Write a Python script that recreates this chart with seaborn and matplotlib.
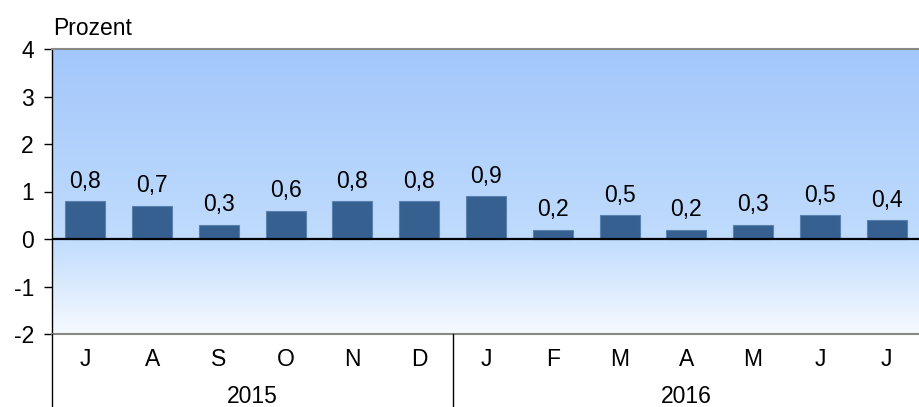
import numpy as np
import pandas as pd

import matplotlib
matplotlib.use("Agg")
import matplotlib.pyplot as plt
from matplotlib.colors import LinearSegmentedColormap
import seaborn as sns

# data
months = ["J", "A", "S", "O", "N", "D", "J", "F", "M", "A", "M", "J", "J"]
years = ["2015"] * 6 + ["2016"] * 7
values = [0.8, 0.7, 0.3, 0.6, 0.8, 0.8, 0.9, 0.2, 0.5, 0.2, 0.3, 0.5, 0.4]

df = pd.DataFrame({
    "periode": [f"{m}-{y}-{i}" for i, (m, y) in enumerate(zip(months, years))],
    "wert": values,
})

sns.set_theme(style="white")
plt.rcParams["font.family"] = ["Liberation Sans", "DejaVu Sans"]
FS = 16.5

fig = plt.figure(figsize=(9.2, 4.07), dpi=100)
ax = fig.add_axes([52 / 920, 73 / 407, 868 / 920, 285 / 407])

n = len(values)
ymin, ymax = -2, 4

# gradient background (light at bottom, blue at top)
cmap = LinearSegmentedColormap.from_list(
    "bg", [(0.0, "#f6faff"), (1 / 3, "#c0dcfd"), (1.0, "#a3c7fb")])
grad = np.linspace(0, 1, 256).reshape(-1, 1)
ax.imshow(grad, cmap=cmap, origin="lower", aspect="auto",
          extent=(-0.5, n - 0.5, ymin, ymax), zorder=0)

sns.barplot(data=df, x="periode", y="wert", color="#36608f", saturation=1,
            width=0.6, edgecolor="#5a80ad", linewidth=0.8, ax=ax, zorder=2)

ax.bar_label(ax.containers[0],
             labels=[f"{v:.1f}".replace(".", ",") for v in values],
             padding=6, fontsize=FS, color="black")

ax.axhline(0, color="black", lw=1.6, zorder=3)

ax.set_xlim(-0.5, n - 0.5)
ax.set_ylim(ymin, ymax)
ax.set_yticks(range(ymin, ymax + 1))
ax.set_yticklabels([str(v) for v in range(ymin, ymax + 1)])
ax.tick_params(axis="y", left=True, length=6, width=1, color="black",
               pad=7, labelsize=FS, labelcolor="black")
ax.set_xticks([])
ax.set_xlabel("")
ax.set_ylabel("")

for side in ["top", "bottom"]:
    ax.spines[side].set_color("#888888")
    ax.spines[side].set_linewidth(1.5)
ax.spines["left"].set_color("black")
ax.spines["left"].set_linewidth(1)
ax.spines["right"].set_visible(False)

# category axis: months and years below the plot
trans = ax.get_xaxis_transform()
for i, m in enumerate(months):
    ax.text(i, -0.088, m, transform=trans, ha="center", va="center",
            fontsize=FS, color="black", clip_on=False)

year_names = list(dict.fromkeys(years))
for y in year_names:
    idx = [i for i, yy in enumerate(years) if yy == y]
    ax.text(np.mean(idx), -0.218, y, transform=trans, ha="center",
            va="center", fontsize=FS, color="black", clip_on=False)

# separators between year groups
bounds = [-0.5] + [i + 0.5 for i in range(n - 1) if years[i] != years[i + 1]]
for b in bounds:
    ax.plot([b, b], [0, -0.26], transform=trans, color="black", lw=1,
            clip_on=False, zorder=4)

fig.text(53 / 920, 1 - 35 / 407, "Prozent", fontsize=FS, ha="left",
         va="baseline", color="black")

fig.savefig("out.png", dpi=100)
plt.close(fig)
